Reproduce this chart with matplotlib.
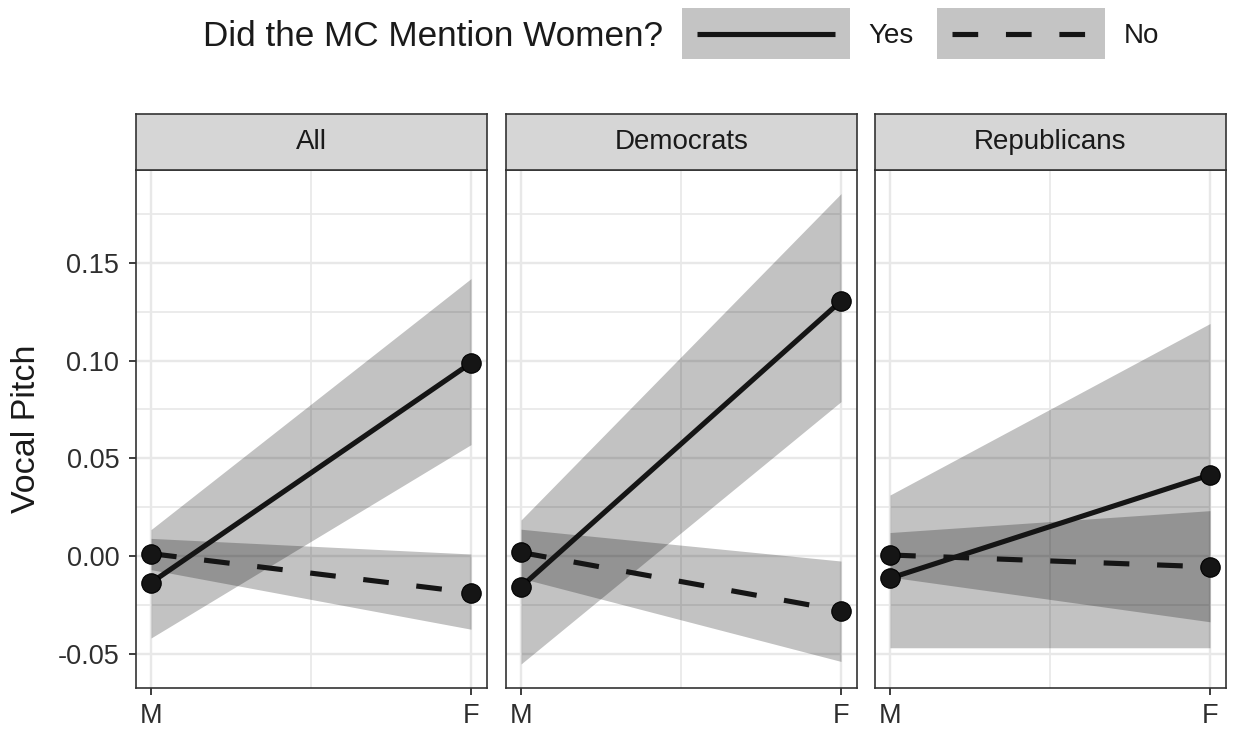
import matplotlib
matplotlib.use("Agg")
import matplotlib.pyplot as plt
from matplotlib.patches import Rectangle
from matplotlib.lines import Line2D
from matplotlib.ticker import MultipleLocator, FixedLocator, FuncFormatter

plt.rcParams['font.family'] = ['Liberation Sans', 'DejaVu Sans']

# ---------------- data ----------------
panels = ["All", "Democrats", "Republicans"]
sex_labels = ["M", "F"]
sex_pos = [1, 2]

yes_est = [[-0.0137, 0.0988], [-0.0158, 0.1305], [-0.0114, 0.0415]]
yes_lo = [[-0.0420, 0.0570], [-0.0553, 0.0790], [-0.0470, -0.0470]]
yes_hi = [[0.0135, 0.1420], [0.0184, 0.1855], [0.0312, 0.1190]]

no_est = [[0.0012, -0.0188], [0.0018, -0.0280], [0.0005, -0.0056]]
no_lo = [[-0.0070, -0.0375], [-0.0114, -0.0540], [-0.0108, -0.0337]]
no_hi = [[0.0090, 0.0010], [0.0137, -0.0026], [0.0120, 0.0232]]

legend_title = "Did the MC Mention Women?"
legend_labels = ["Yes", "No"]
ylabel = "Vocal Pitch"
yticks = [-0.05, 0.00, 0.05, 0.10, 0.15]

# ---------------- style ----------------
W, H = 1233, 732
DPI = 100
fig = plt.figure(figsize=(W / DPI, H / DPI), dpi=DPI)

line_col = "#151515"
ribbon_col = "black"
ribbon_alpha = 0.24
lw = 3.7
dash = (5.0, 5.4)
grid_col = "#E8E8E8"
border_col = "#333333"
strip_fill = "#D6D6D6"
text_col = "#1A1A1A"
tick_col = "#2E2E2E"

ax_lefts = [136, 506, 875]
ax_w = 351
ax_top, ax_bot = 170, 688
strip_top = 114

ylim = (-0.0676, 0.1976)
xlim = (0.953, 2.05)

def fx(px):
    return px / W

def fy(py):
    return 1 - py / H

for i, name in enumerate(panels):
    ax = fig.add_axes([fx(ax_lefts[i]), fy(ax_bot), ax_w / W, (ax_bot - ax_top) / H])
    ax.set_xlim(*xlim)
    ax.set_ylim(*ylim)

    # ribbons
    ax.fill_between(sex_pos, yes_lo[i], yes_hi[i], color=ribbon_col, alpha=ribbon_alpha,
                    linewidth=0, zorder=2)
    ax.fill_between(sex_pos, no_lo[i], no_hi[i], color=ribbon_col, alpha=ribbon_alpha,
                    linewidth=0, zorder=2)
    # lines
    ax.plot(sex_pos, yes_est[i], color=line_col, lw=lw, solid_capstyle='butt', zorder=3)
    ax.plot(sex_pos, no_est[i], color=line_col, lw=lw, linestyle=(0, dash),
            dash_capstyle='butt', zorder=3)
    # points
    ax.plot(sex_pos, yes_est[i], linestyle='none', marker='o', ms=14, color=line_col,
            markeredgecolor='black', markeredgewidth=0.8, zorder=4)
    ax.plot(sex_pos, no_est[i], linestyle='none', marker='o', ms=14, color=line_col,
            markeredgecolor='black', markeredgewidth=0.8, zorder=4)

    # grid
    ax.yaxis.set_major_locator(FixedLocator(yticks))
    ax.yaxis.set_minor_locator(MultipleLocator(0.025))
    ax.xaxis.set_major_locator(FixedLocator(sex_pos))
    ax.xaxis.set_minor_locator(FixedLocator([1.5]))
    ax.grid(True, which='major', color=grid_col, lw=1.7, zorder=0)
    ax.grid(True, which='minor', color=grid_col, lw=1.2, zorder=0)
    ax.set_axisbelow(True)

    ax.set_xticklabels(sex_labels)
    ax.tick_params(axis='x', which='major', length=5, width=1.3, color=tick_col,
                   labelsize=19.5, labelcolor=tick_col, pad=6)
    ax.tick_params(axis='both', which='minor', length=0)
    if i == 0:
        ax.yaxis.set_major_formatter(FuncFormatter(lambda v, p: f"{v:.2f}".replace("\u2212", "-")))
        ax.tick_params(axis='y', which='major', length=5, width=1.3, color=tick_col,
                       labelsize=19.5, labelcolor=tick_col, pad=7)
        ax.set_ylabel(ylabel, fontsize=24.5, color=text_col, labelpad=11)
    else:
        ax.tick_params(axis='y', which='major', length=0, labelleft=False)

    for s in ax.spines.values():
        s.set_color(border_col)
        s.set_linewidth(1.2)
        s.set_zorder(5)

    # strip
    sax = fig.add_axes([fx(ax_lefts[i]), fy(ax_top), ax_w / W, (ax_top - strip_top) / H])
    sax.set_facecolor(strip_fill)
    sax.set_xticks([])
    sax.set_yticks([])
    for s in sax.spines.values():
        s.set_color(border_col)
        s.set_linewidth(1.2)
    sax.text(0.5, 0.5, name, ha='center', va='center', fontsize=20, color=text_col,
             transform=sax.transAxes)

# ---------------- legend (manual, top) ----------------
fig.text(fx(203), fy(36), legend_title, ha='left', va='center', fontsize=25.3, color=text_col)
key_lefts = [682, 937]
key_w, key_top, key_bot = 168, 8, 59
label_x = [868, 1124]
styles = ['-', (0, dash)]
for k in range(2):
    fig.add_artist(Rectangle((fx(key_lefts[k]), fy(key_bot)), key_w / W, (key_bot - key_top) / H,
                             transform=fig.transFigure, facecolor='#C4C4C4', edgecolor='none'))
    yc = fy((key_top + key_bot) / 2)
    fig.add_artist(Line2D([fx(key_lefts[k] + 15), fx(key_lefts[k] + key_w - 15)], [yc, yc],
                          transform=fig.transFigure, color=line_col, lw=lw, linestyle=styles[k],
                          solid_capstyle='butt', dash_capstyle='butt'))
    fig.text(fx(label_x[k]), fy(36), legend_labels[k], ha='left', va='center', fontsize=20,
             color=text_col)

fig.savefig("out.png", dpi=DPI, facecolor='white')
